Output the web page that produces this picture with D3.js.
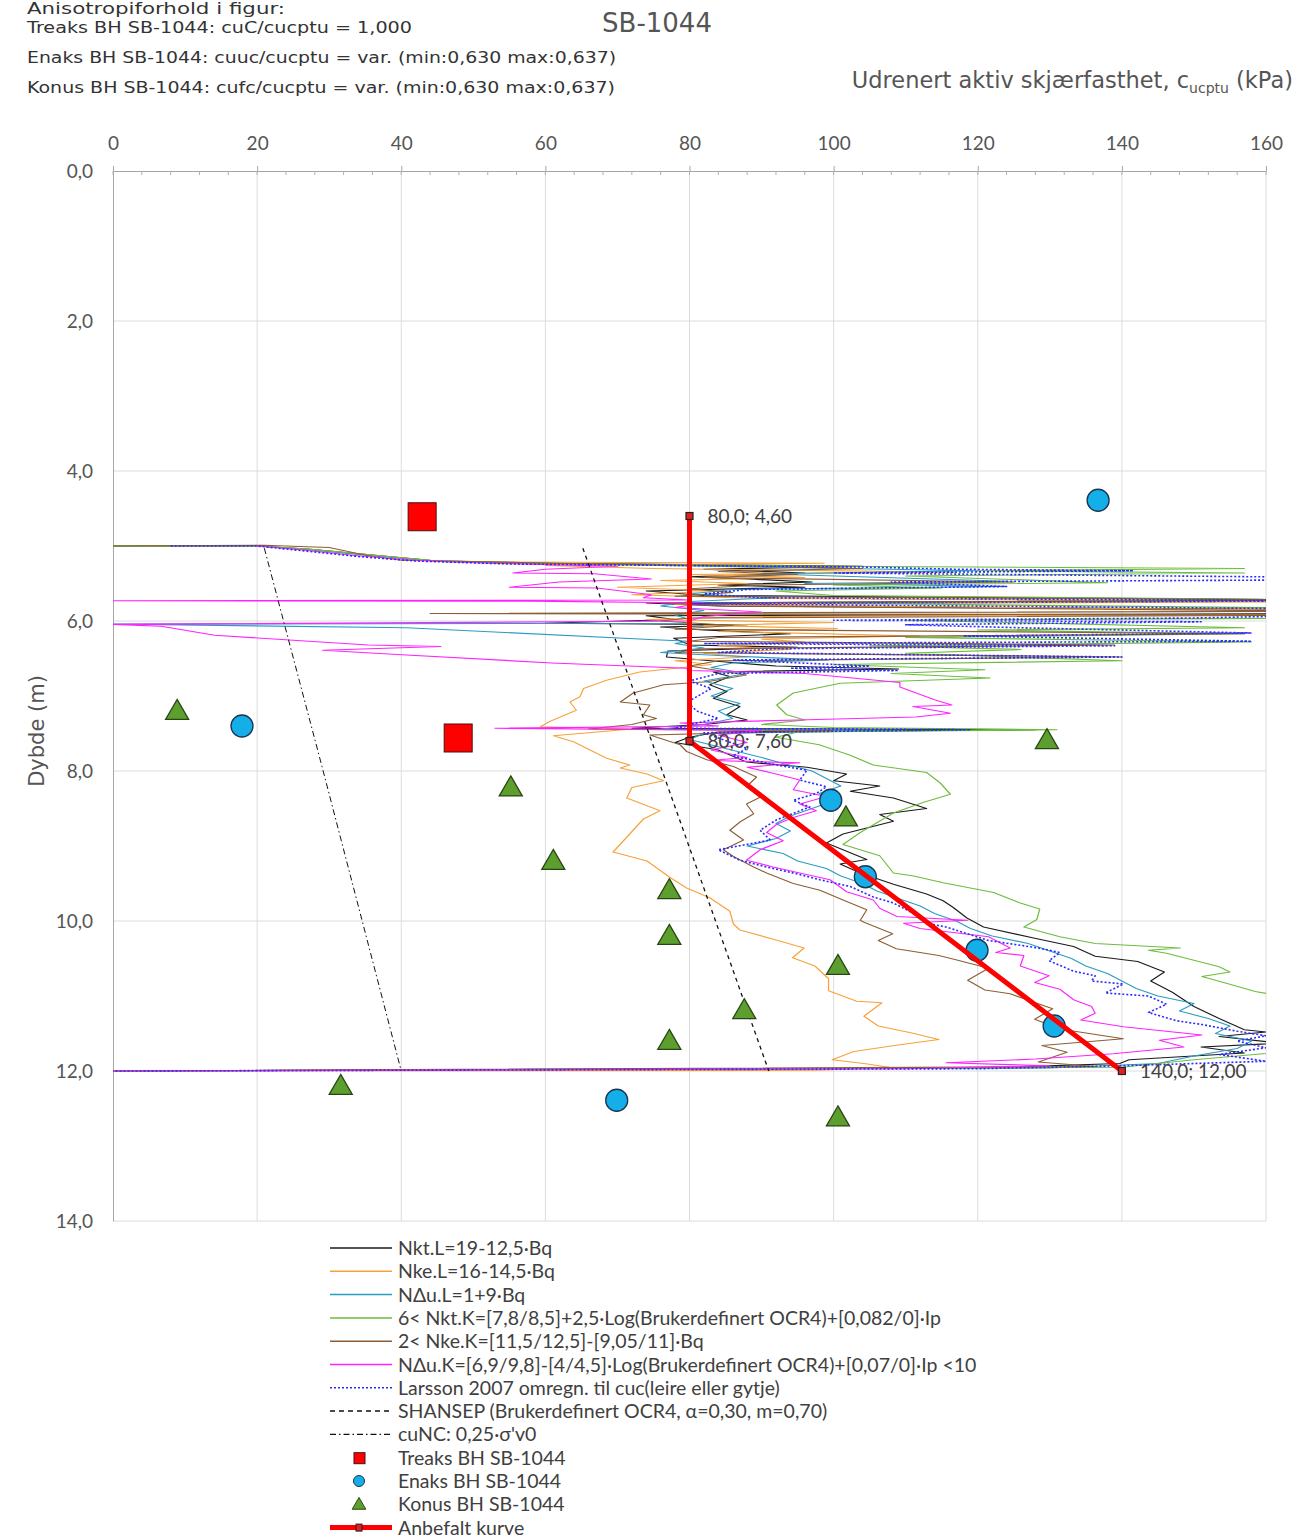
<!DOCTYPE html>
<html><head><meta charset="utf-8">
<script src="https://cdn.jsdelivr.net/npm/d3@7"></script>
<style>
body{margin:0;background:#fff}
svg{display:block}
text{font-family:Lato,"Open Sans",sans-serif;fill:#404040}
</style>
</head><body>
<svg id="c" width="1297" height="1539"></svg>
<script>
// ---------- DATA ----------
const xTicks = [0,20,40,60,80,100,120,140,160];
const yTicks = [0,2,4,6,8,10,12,14];

const headerLines = [
  "Anisotropiforhold i figur:",
  "Treaks BH SB-1044: cuC/cucptu = 1,000",
  "Enaks BH SB-1044: cuuc/cucptu = var. (min:0,630 max:0,637)",
  "Konus BH SB-1044: cufc/cucptu = var. (min:0,630 max:0,637)"
];
const chartTitle = "SB-1044";
const xTitleMain = "Udrenert aktiv skjærfasthet, c";
const xTitleSub = "ucptu";
const xTitleEnd = " (kPa)";
const yTitle = "Dybde (m)";

// [value kPa, depth m]
const nktL = [[0,5.00],[20,5.00],[27,5.04],[36,5.12],[45,5.20],[62,5.23],[104,5.27],[82,5.31],[96,5.36],[80,5.41],[88,5.44],[97,5.48],[84,5.52],[96,5.55],[74,5.60],[82,5.66],[170,5.72],[74,5.76],[84,5.80],[170,5.85],[170,5.90],[74,5.93],[78,5.98],[60,6.03],[88,6.05],[76,6.08],[82,6.12],[94,6.17],[77.8,6.23],[80.1,6.32],[95,6.35],[77,6.40],[76.8,6.48],[84.2,6.54],[92,6.60],[109,6.64],[83.3,6.68],[85.6,6.74],[82.8,6.85],[85.2,6.94],[83.3,7.03],[87,7.14],[85.2,7.25],[88,7.32],[82,7.38],[72,7.43],[128,7.45],[84,7.48],[80,7.55],[78,7.62],[84,7.72],[87.9,7.88],[96.3,7.95],[101.8,8.04],[100,8.13],[106.4,8.20],[102.3,8.27],[108.3,8.36],[112.9,8.50],[106.4,8.58],[108.3,8.67],[101.3,8.84],[99,8.96],[104.6,9.18],[100.9,9.24],[103.7,9.36],[108.3,9.51],[112.9,9.64],[115.2,9.73],[116.6,9.82],[118.5,9.96],[120.8,10.08],[127.9,10.23],[133.3,10.34],[136.3,10.47],[142.2,10.54],[145.9,10.68],[144,10.80],[147,10.95],[150,11.14],[153.5,11.30],[157,11.45],[160,11.48],[153.5,11.54],[162,11.63],[151,11.68],[157,11.76],[141,11.85],[139.7,11.90],[120,11.96],[0,12.00]];

const nkeL = [[0,5.00],[20,5.00],[28,5.05],[38,5.14],[46,5.21],[98.7,5.23],[60,5.26],[75,5.30],[117,5.35],[80,5.38],[96,5.42],[76,5.46],[88,5.50],[70,5.55],[84,5.60],[72,5.65],[90,5.70],[170,5.74],[78,5.78],[170,5.86],[170,5.91],[90,5.94],[74,5.98],[100,6.02],[82,6.06],[100.5,6.10],[84,6.14],[112,6.20],[90,6.24],[96,6.28],[84,6.33],[94,6.38],[82,6.43],[88,6.48],[78,6.53],[83,6.58],[73.1,6.68],[68.5,6.79],[65.3,6.90],[64.8,7.01],[63.4,7.08],[64.3,7.19],[60.6,7.34],[59.3,7.41],[72,7.44],[61.1,7.53],[63.9,7.61],[66.2,7.72],[68.5,7.83],[71.7,7.92],[70.4,7.96],[74.1,8.04],[76.4,8.13],[72,8.22],[71.3,8.36],[75.9,8.53],[73.6,8.64],[71.7,8.84],[69.4,9.08],[74.1,9.20],[77.3,9.42],[79.6,9.56],[82.8,9.69],[85.6,9.87],[86.1,10.04],[87,10.12],[91.9,10.25],[95.9,10.36],[94.3,10.49],[97.4,10.60],[99.3,10.77],[99.3,10.93],[103.2,11.07],[106.7,11.09],[104.2,11.27],[106.2,11.40],[110.7,11.49],[114.6,11.58],[109.2,11.65],[102.8,11.74],[99.8,11.85],[104.2,11.90],[107.7,11.95],[97.8,11.99],[0,12.00]];

const nduL = [[0,5.00],[20,5.00],[27,5.05],[37,5.14],[46,5.21],[64,5.24],[95,5.29],[120,5.33],[90,5.37],[124,5.47],[96,5.50],[124,5.54],[86,5.58],[80,5.64],[92,5.69],[80,5.74],[76,5.80],[82,5.86],[78,5.92],[80,5.98],[80,6.03],[0,6.04],[6.7,6.05],[40.7,6.09],[75.2,6.25],[80,6.27],[78,6.30],[82,6.36],[76,6.42],[84,6.46],[99.2,6.52],[86,6.56],[83,6.62],[88,6.70],[82,6.80],[86,6.90],[83,7.00],[87,7.10],[84,7.20],[86,7.30],[82,7.38],[76,7.44],[110,7.46],[82,7.50],[80,7.58],[85,7.70],[90,7.82],[93,7.90],[97,8.00],[99,8.10],[101,8.20],[98,8.30],[100,8.40],[97,8.50],[94,8.60],[92,8.70],[94,8.80],[92,8.90],[88,9.00],[93,9.10],[95,9.20],[99,9.30],[101,9.40],[104,9.50],[106,9.60],[109,9.70],[112,9.80],[114,9.90],[117,10.00],[119,10.10],[122,10.20],[127,10.30],[130,10.40],[133,10.50],[135,10.60],[138,10.70],[140,10.80],[142,10.90],[145,11.00],[150,11.10],[148,11.20],[152,11.30],[155,11.40],[153,11.50],[158,11.60],[156,11.70],[150,11.80],[145,11.90],[130,11.96],[0,12.00]];

const nktK = [[0,5.00],[20,5.00],[27,5.04],[36,5.12],[44,5.19],[58,5.23],[100,5.27],[157,5.30],[120,5.33],[157,5.36],[110,5.40],[138,5.49],[100,5.52],[115,5.56],[92,5.60],[100,5.66],[170,5.72],[96,5.76],[170,5.83],[170,5.90],[170,5.96],[110,5.99],[157,6.09],[120,6.12],[157,6.17],[110,6.22],[158,6.28],[105,6.33],[126,6.38],[110,6.43],[140,6.53],[100,6.58],[121,6.65],[108,6.70],[121.7,6.76],[100.9,6.83],[94.4,6.96],[92.1,7.12],[93.5,7.25],[96,7.32],[90,7.38],[100,7.42],[131,7.45],[95,7.48],[92,7.55],[98,7.65],[102.3,7.79],[105.5,7.92],[112.9,8.02],[114.8,8.16],[116.2,8.31],[112.4,8.42],[108.3,8.56],[103.7,8.82],[101.3,8.98],[106.4,9.13],[108.3,9.36],[111.1,9.40],[115.2,9.49],[122.2,9.62],[125.9,9.76],[128.6,9.84],[128.2,9.98],[126.4,10.08],[131.4,10.21],[136.3,10.30],[148.1,10.36],[143.7,10.39],[146.2,10.43],[153.5,10.61],[155,10.68],[151.1,10.74],[154.5,10.83],[158.5,10.94],[162,11.00],[165,11.20],[163,11.40],[168,11.60],[162,11.75],[150,11.85],[140,11.95],[0,12.00]];

const nkeK = [[0,5.00],[21,4.99],[30,5.02],[35.4,5.13],[40,5.19],[61,5.23],[90,5.27],[104,5.30],[84,5.34],[95,5.38],[82,5.42],[125,5.48],[90,5.52],[80,5.57],[86,5.62],[78,5.67],[170,5.72],[76,5.76],[85,5.80],[170,5.87],[44,5.90],[170,5.92],[80,5.96],[76,6.00],[86,6.06],[78,6.11],[157,6.17],[84,6.22],[80,6.27],[139,6.32],[82,6.37],[78,6.42],[140,6.48],[84,6.53],[80,6.60],[87.9,6.72],[82.4,6.81],[76.4,6.85],[72.2,6.96],[70.4,7.08],[74.5,7.12],[73.6,7.25],[75.4,7.30],[72,7.38],[66,7.44],[100,7.46],[74.5,7.52],[78.7,7.65],[79.6,7.74],[82.4,7.85],[86.1,7.94],[89.3,8.08],[87.9,8.21],[89.8,8.35],[87.9,8.44],[88.9,8.57],[87,8.68],[85.6,8.79],[87.5,8.92],[84.7,9.05],[86.1,9.14],[88.9,9.28],[90.7,9.36],[94.4,9.50],[98.1,9.59],[101.3,9.72],[104.6,9.85],[103.7,9.99],[104.3,10.02],[108.2,10.17],[106.2,10.26],[108.7,10.37],[114.6,10.46],[117.1,10.52],[121.5,10.63],[118.6,10.79],[121,10.92],[124.5,10.97],[128.9,11.12],[130.4,11.17],[127.9,11.31],[131.4,11.44],[140.2,11.57],[128.9,11.66],[132.4,11.75],[128.4,11.88],[136.3,11.94],[0,12.00]];

const nduK = [[20,5.00],[26,5.05],[34,5.13],[42,5.19],[52,5.23],[70,5.27],[60,5.31],[55.5,5.36],[66.8,5.37],[74.7,5.44],[61.9,5.48],[55,5.55],[67.2,5.56],[74.7,5.65],[73.6,5.69],[80,5.72],[0,5.73],[58,5.735],[82,5.76],[78,5.82],[90,5.88],[82,5.94],[80,6.00],[0,6.045],[6.7,6.07],[14.1,6.19],[35.4,6.32],[45.5,6.34],[29.1,6.39],[40.1,6.45],[60.9,6.56],[79.5,6.63],[80,6.66],[96,6.70],[109.2,6.82],[109.2,6.88],[114,7.05],[116.4,7.12],[111,7.14],[116.2,7.23],[111.4,7.28],[95,7.32],[78.7,7.36],[84,7.40],[53,7.43],[90,7.46],[84,7.52],[88,7.62],[83,7.72],[88,7.82],[82.8,7.86],[95.3,7.89],[88,7.95],[91.6,8.03],[95.3,8.12],[94.4,8.25],[99,8.34],[95.3,8.44],[97.6,8.53],[94.4,8.62],[92.1,8.71],[90.7,8.82],[93,8.93],[89.8,9.05],[87.9,9.19],[91.6,9.28],[95.3,9.36],[99.5,9.45],[101.8,9.61],[105.5,9.72],[106.4,9.83],[108.8,9.94],[118.6,9.99],[109.7,10.03],[112,10.10],[121.5,10.21],[124.5,10.36],[122.5,10.42],[126.4,10.46],[125.9,10.60],[129.9,10.73],[127.9,10.82],[131.4,10.91],[133.3,11.05],[135.8,11.14],[136.3,11.23],[134.3,11.32],[140.2,11.41],[151.1,11.52],[145.2,11.59],[148.6,11.68],[138.8,11.77],[128,11.84],[115.6,11.89],[130,11.93],[110,11.97],[0,12.00]];

const larsson = [[8,5.00],[20,5.00],[26,5.06],[34,5.14],[42,5.20],[55,5.24],[104,5.28],[117,5.31],[141.6,5.33],[100,5.36],[170,5.42],[170,5.45],[108,5.48],[124,5.54],[88,5.58],[82,5.64],[90,5.69],[170,5.73],[80,5.77],[170,5.84],[170,5.88],[170,5.92],[150,5.96],[100,5.99],[151,6.01],[110,6.05],[126,6.09],[158,6.16],[118,6.20],[158,6.27],[82,6.30],[139,6.33],[92,6.37],[84,6.42],[140,6.48],[86,6.52],[105,6.60],[94,6.63],[109,6.66],[84,6.70],[80,6.80],[83,6.90],[79.7,7.08],[81,7.20],[84,7.30],[80,7.38],[78,7.43],[119,7.45],[82,7.49],[84,7.56],[88,7.70],[86,7.80],[92.1,7.92],[96.3,7.99],[95.3,8.12],[99,8.21],[97.6,8.30],[94.4,8.39],[96.7,8.48],[92.1,8.65],[89.8,8.79],[91.2,8.92],[84,9.05],[87,9.19],[90.7,9.28],[94.4,9.36],[98.1,9.45],[102.3,9.54],[105.5,9.68],[108.3,9.76],[111.1,9.90],[112.9,10.03],[115.6,10.08],[121.5,10.26],[128.4,10.36],[131.4,10.42],[129.9,10.53],[133.3,10.67],[136.3,10.73],[135.8,10.80],[140.2,10.84],[137.7,10.96],[143.7,11.00],[146.2,11.11],[143.7,11.22],[147.6,11.33],[151.1,11.38],[156,11.47],[160,11.53],[156,11.60],[160,11.69],[153.5,11.78],[160,11.87],[140,11.93],[120,11.97],[0,12.00]];

const shansep = [[65.2,5.03],[76,7.94],[91,12.00]];
const cuNC = [[21,5.03],[29,7.94],[40,12.00]];

const treaks = [[42.9,4.61],[47.9,7.56]];
const enaks = [[136.7,4.39],[17.9,7.40],[99.6,8.39],[104.4,9.41],[119.9,10.39],[130.6,11.40],[69.9,12.39]];
const konus = [[8.9,7.21],[129.6,7.60],[55.2,8.23],[101.7,8.63],[61.1,9.21],[77.2,9.60],[77.2,10.21],[100.6,10.61],[87.6,11.20],[77.2,11.61],[31.6,12.21],[100.6,12.63]];
const anbefalt = [[80,4.60],[80,7.60],[140,12.00]];

const legendLabels = [
  "Nkt.L=19-12,5·Bq",
  "Nke.L=16-14,5·Bq",
  "NΔu.L=1+9·Bq",
  "6< Nkt.K=[7,8/8,5]+2,5·Log(Brukerdefinert OCR4)+[0,082/0]·Ip",
  "2< Nke.K=[11,5/12,5]-[9,05/11]·Bq",
  "NΔu.K=[6,9/9,8]-[4/4,5]·Log(Brukerdefinert OCR4)+[0,07/0]·Ip <10",
  "Larsson 2007 omregn. til cuc(leire eller gytje)",
  "SHANSEP (Brukerdefinert OCR4, α=0,30, m=0,70)",
  "cuNC: 0,25·σ'v0",
  "Treaks BH SB-1044",
  "Enaks BH SB-1044",
  "Konus BH SB-1044",
  "Anbefalt kurve"
];

// ---------- STYLE ----------
const headerWidths = [258, 385, 589, 588];
const lineSeries = [
  {data:nktL, color:"#1a1a1a", w:1.2, dash:null},
  {data:nkeL, color:"#f7a13a", w:1.2, dash:null},
  {data:nduL, color:"#2a9cc4", w:1.2, dash:null},
  {data:nktK, color:"#6cbd3c", w:1.2, dash:null},
  {data:nkeK, color:"#8c5e34", w:1.2, dash:null},
  {data:nduK, color:"#ff22ff", w:1.2, dash:null},
  {data:larsson, color:"#2b2bff", w:1.6, dash:"2,2"},
  {data:shansep, color:"#111", w:1.3, dash:"4,4"},
  {data:cuNC, color:"#111", w:1.0, dash:"6,3,1.5,3"}
];
const DJ = "'DejaVu Sans',Verdana,sans-serif";

const svg = d3.select("#c");
const x = d3.scaleLinear().domain([0,160]).range([113,1266]);
const y = d3.scaleLinear().domain([0,14]).range([171,1221]);
const fmt = v => v.toFixed(1).replace(".", ",");

// header
svg.selectAll("text.hdr").data(headerLines).join("text")
  .attr("class","hdr").attr("x",27).attr("y",(d,i)=>i===0?14:33+(i-1)*30)
  .attr("textLength",(d,i)=>headerWidths[i]).attr("lengthAdjust","spacingAndGlyphs")
  .style("font-family",DJ).style("font-size","16px").style("fill","#333").text(d=>d);
svg.append("text").attr("x",657).attr("y",32).attr("text-anchor","middle")
  .style("font-family",DJ).style("font-size","26px").style("fill","#555").text(chartTitle);
const xt = svg.append("text").attr("x",1293).attr("y",88).attr("text-anchor","end")
  .style("font-family",DJ).style("font-size","22.5px").style("fill","#555");
xt.append("tspan").text(xTitleMain);
xt.append("tspan").attr("dy",5).style("font-size","14px").text(xTitleSub);
xt.append("tspan").attr("dy",-5).text(xTitleEnd);
svg.append("text").attr("transform","translate(44,731) rotate(-90)").attr("text-anchor","middle")
  .style("font-family",DJ).style("font-size","21px").style("fill","#555").text(yTitle);

// grid
const g = svg.append("g");
g.selectAll("line.vg").data(xTicks.filter(d=>d>0)).join("line")
  .attr("x1",d=>x(d)).attr("x2",d=>x(d)).attr("y1",y(0)).attr("y2",y(14))
  .attr("stroke","#dcdcdc").attr("stroke-width",1);
g.selectAll("line.hg").data(yTicks.filter(d=>d>0)).join("line")
  .attr("x1",x(0)).attr("x2",x(160)).attr("y1",d=>y(d)).attr("y2",d=>y(d))
  .attr("stroke","#dcdcdc").attr("stroke-width",1);

// axes
const ax = svg.append("g").attr("transform",`translate(0,${y(0)})`)
  .call(d3.axisTop(x).tickValues(xTicks).tickSize(5).tickPadding(16));
const ay = svg.append("g").attr("transform",`translate(${x(0)},0)`)
  .call(d3.axisLeft(y).tickValues(yTicks).tickSize(0).tickPadding(20).tickFormat(fmt));
[ax,ay].forEach(a=>{
  a.select(".domain").attr("stroke","#a6a6a6");
  a.selectAll(".tick line").attr("stroke","#a6a6a6");
  a.selectAll("text").style("font-size","19px").style("fill","#555").style("font-family","Lato,'Open Sans',sans-serif");
});
svg.append("g").selectAll("line").data(d3.range(0,161,4)).join("line")
  .attr("x1",d=>x(d)).attr("x2",d=>x(d)).attr("y1",y(0)).attr("y2",y(0)+4)
  .attr("stroke","#b0b0b0");

// clip
svg.append("clipPath").attr("id","clip").append("rect")
  .attr("x",x(0)).attr("y",y(0)).attr("width",x(160)-x(0)).attr("height",y(14)-y(0));
const plot = svg.append("g").attr("clip-path","url(#clip)");
const line = d3.line().x(d=>x(d[0])).y(d=>y(d[1]));
lineSeries.forEach(s=>{
  plot.append("path").attr("d",line(s.data)).attr("fill","none")
    .attr("stroke",s.color).attr("stroke-width",s.w)
    .attr("stroke-dasharray",s.dash).attr("stroke-linejoin","round");
});

// markers
const sq = 28;
plot.selectAll("rect.tr").data(treaks).join("rect")
  .attr("x",d=>x(d[0])-sq/2).attr("y",d=>y(d[1])-sq/2).attr("width",sq).attr("height",sq)
  .attr("fill","#ff0000").attr("stroke","#4a1010").attr("stroke-width",1);
plot.selectAll("ellipse.en").data(enaks).join("ellipse")
  .attr("cx",d=>x(d[0])).attr("cy",d=>y(d[1])).attr("rx",11).attr("ry",11)
  .attr("fill","#14aee8").attr("stroke","#1d3550").attr("stroke-width",1.3);
const tri = d3.symbol().type(d3.symbolTriangle).size(230);
plot.selectAll("path.ko").data(konus).join("path")
  .attr("transform",d=>`translate(${x(d[0])},${y(d[1])+1})`).attr("d",tri)
  .attr("fill","#5d9f2e").attr("stroke","#2a4515").attr("stroke-width",1.3);

// recommended curve
plot.append("path").attr("d",line(anbefalt)).attr("fill","none")
  .attr("stroke","#ff0000").attr("stroke-width",5);
plot.selectAll("rect.ab").data(anbefalt).join("rect")
  .attr("x",d=>x(d[0])-3.5).attr("y",d=>y(d[1])-3.5).attr("width",7).attr("height",7)
  .attr("fill","#e02020").attr("stroke","#222").attr("stroke-width",1.2);
svg.selectAll("text.ablab").data(anbefalt).join("text")
  .attr("x",d=>x(d[0])+18).attr("y",d=>y(d[1])+7)
  .style("font-size","19px").style("fill","#404040")
  .text(d=>fmt(d[0])+"; "+d[1].toFixed(2).replace(".",","));

// legend
const lg = svg.append("g");
const ly0 = 1248, ldy = 23.3, lx1 = 330, lx2 = 392, ltx = 398;
const legendStyle = [
  {kind:"line",color:"#1a1a1a",dash:null,w:1.5},
  {kind:"line",color:"#f7a13a",dash:null,w:1.5},
  {kind:"line",color:"#2a9cc4",dash:null,w:1.5},
  {kind:"line",color:"#6cbd3c",dash:null,w:1.5},
  {kind:"line",color:"#8c5e34",dash:null,w:1.5},
  {kind:"line",color:"#ff22ff",dash:null,w:1.5},
  {kind:"line",color:"#2b2bff",dash:"2,2",w:1.5},
  {kind:"line",color:"#111",dash:"5,4",w:1.5},
  {kind:"line",color:"#111",dash:"6,3,1.5,3",w:1.2},
  {kind:"sq"},{kind:"ci"},{kind:"tr"},{kind:"ab"}
];
legendLabels.forEach((lab,i)=>{
  const cy = ly0 + i*ldy, st = legendStyle[i], cx = (lx1+lx2)/2 - 2;
  if(st.kind==="line"){
    lg.append("line").attr("x1",lx1).attr("x2",lx2).attr("y1",cy).attr("y2",cy)
      .attr("stroke",st.color).attr("stroke-width",st.w).attr("stroke-dasharray",st.dash);
  } else if(st.kind==="sq"){
    lg.append("rect").attr("x",cx-5).attr("y",cy-5).attr("width",11).attr("height",11)
      .attr("fill","#ff0000").attr("stroke","#4a1010");
  } else if(st.kind==="ci"){
    lg.append("circle").attr("cx",cx).attr("cy",cy).attr("r",5.5)
      .attr("fill","#14aee8").attr("stroke","#1d3550");
  } else if(st.kind==="tr"){
    lg.append("path").attr("transform",`translate(${cx},${cy+1})`)
      .attr("d",d3.symbol().type(d3.symbolTriangle).size(80))
      .attr("fill","#5d9f2e").attr("stroke","#2a4515");
  } else {
    lg.append("line").attr("x1",lx1).attr("x2",lx2).attr("y1",cy).attr("y2",cy)
      .attr("stroke","#ff0000").attr("stroke-width",5);
    lg.append("rect").attr("x",cx-3).attr("y",cy-3.5).attr("width",6).attr("height",7)
      .attr("fill","#e02020").attr("stroke","#222");
  }
  lg.append("text").attr("x",ltx).attr("y",cy+7).style("font-size","19.5px")
    .style("fill","#404040").text(lab);
});
</script>
</body></html>
